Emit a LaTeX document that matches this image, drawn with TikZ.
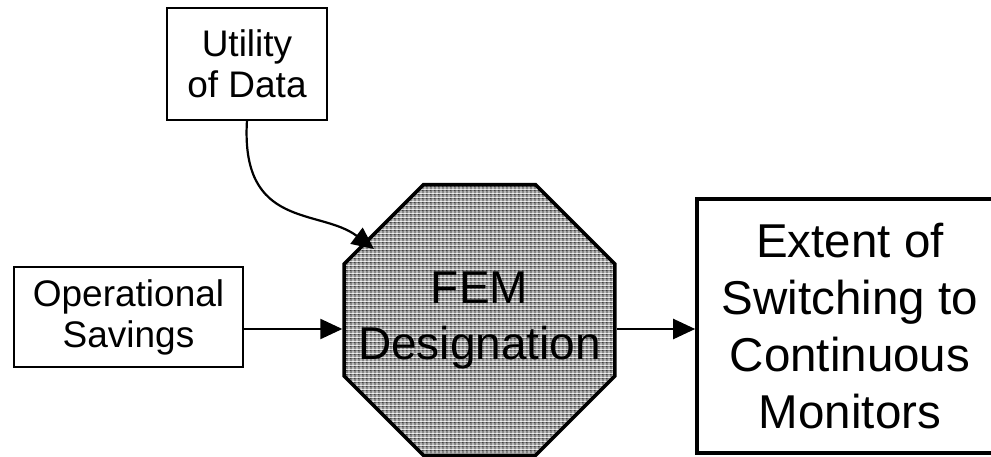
\documentclass[tikz,border=0pt]{standalone}
\usepackage{fontspec}
\setmainfont{Liberation Sans}
\usetikzlibrary{shapes.geometric,arrows.meta,patterns}

% fine dotted grey texture for the octagon
\pgfdeclarepatterninherentlycolored{femdots}{\pgfpointorigin}{\pgfqpoint{4pt}{4pt}}{\pgfqpoint{4pt}{4pt}}{%
  \pgfsetfillcolor{black!48}%
  \pgfpathrectangle{\pgfpointorigin}{\pgfqpoint{4pt}{4pt}}\pgfusepath{fill}%
  \pgfsetfillcolor{white}%
  \pgfpathrectangle{\pgfqpoint{0.5pt}{0.5pt}}{\pgfqpoint{1.5pt}{1.5pt}}\pgfusepath{fill}%
  \pgfsetfillcolor{black!75}%
  \pgfpathrectangle{\pgfqpoint{2.5pt}{2.5pt}}{\pgfqpoint{1.5pt}{1.5pt}}\pgfusepath{fill}%
}

\tikzset{
  smallbox/.style={draw, line width=1.8pt, inner sep=0pt, align=center,
    font=\fontsize{37}{41}\selectfont},
  bigbox/.style={draw, line width=3.6pt, inner sep=0pt, align=center,
    font=\fontsize{47.5}{57}\selectfont},
  stopsign/.style={regular polygon, regular polygon sides=8, draw, line width=3.6pt,
    minimum size=293pt, inner sep=0pt, pattern=femdots},
  stoptext/.style={inner sep=0pt, align=center, font=\fontsize{46}{56}\selectfont},
  link/.style={line width=2.2pt, -{Triangle[length=22pt,width=20pt]}}
}

\begin{document}
\begin{tikzpicture}[x=1pt, y=-1pt]
  \useasboundingbox (0,0) rectangle (991,457);

  \node[smallbox, minimum width=160pt, minimum height=112pt] (util) at (247,64) {Utility\\of Data};
  \node[smallbox, minimum width=229pt, minimum height=100pt] (ops) at (128.5,317) {Operational\\Savings};
  \node[stopsign] (fem) at (479.5,320) {};
  \node[stoptext] (femtext) at (fem.center) {FEM\\Designation};
  \node[bigbox, minimum width=306pt, minimum height=254pt] (ext) at (850,326)
    {Extent of\\Switching to\\Continuous\\Monitors};

  % arrows enter the octagon slightly below its centre
  \coordinate (lvl) at (0,329);
  \coordinate (utilfoot) at (247,120);
  \coordinate (femtip) at (374,249);

  \draw[link] (utilfoot) .. controls (240,230) and (320,208) .. (femtip);
  \draw[link] (ops.east |- lvl) -- (fem.west |- lvl);
  \draw[link] (fem.east |- lvl) -- (ext.west |- lvl);
\end{tikzpicture}
\end{document}
